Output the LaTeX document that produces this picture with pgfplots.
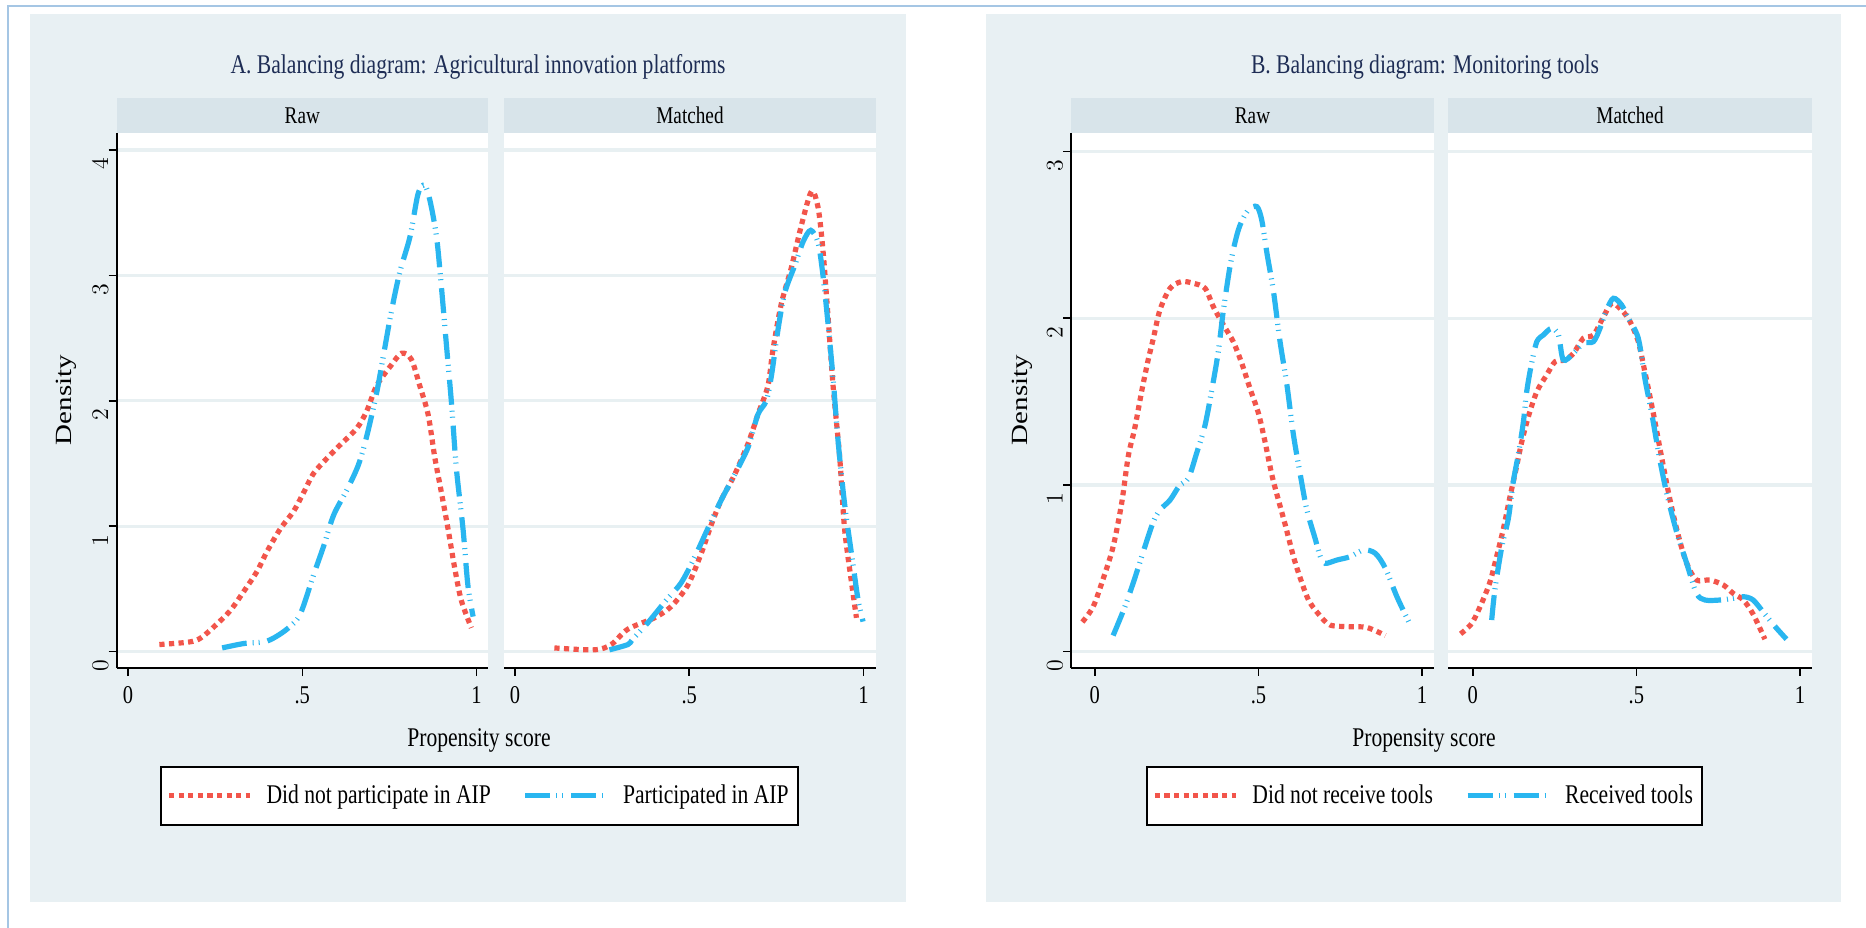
\documentclass[border=0pt]{standalone}
\usepackage{fontspec}
\setmainfont{Liberation Serif}[FakeStretch=0.8]
\newfontfamily\plainserif{Liberation Serif}
\usepackage{graphicx}
\usepackage{pgfplots}
\pgfplotsset{compat=1.18}
\definecolor{bgc}{RGB}{232,240,243}
\definecolor{stripc}{RGB}{216,228,234}
\definecolor{gridc}{RGB}{232,240,242}
\definecolor{redc}{RGB}{242,85,75}
\definecolor{bluec}{RGB}{41,182,240}
\definecolor{borderc}{RGB}{165,198,228}
\definecolor{titlec}{RGB}{30,45,85}
\newcommand\tfont{\fontsize{13.5bp}{16bp}\selectfont}
\newcommand\stripfont{\fontsize{12bp}{14bp}\selectfont}
\newcommand\tickfont{\fontsize{12.8bp}{15bp}\selectfont}
\pgfplotsset{
  panel/.style={
    scale only axis, height=267.5bp, anchor=south west,
    axis background/.style={fill=white},
    axis lines=left,
    axis line style={-, black, line width=1.1bp},
    ymajorgrids, major grid style={gridc, line width=1.6bp},
    tick align=outside, major tick length=4bp,
    tick style={black, line width=0.8bp},
    xtick={0,0.5,1}, xticklabels={0,.5,1},
    xticklabel style={font=\tickfont, inner sep=0pt, anchor=north, yshift=-5bp},
    yticklabel style={font=\tickfont, inner sep=0pt, rotate=90, anchor=south, xshift=-7bp},
    legend image code/.code={\draw[#1] (0bp,0bp) -- (40.5bp,0bp);},
  },
  redline/.style={redc, line width=2.6bp, line cap=butt, dash pattern=on 2.6bp off 2.2bp, smooth},
  blueline/.style={bluec, line width=2.6bp, line cap=butt, dash pattern=on 12.5bp off 3bp on 0.5bp off 2.5bp on 0.5bp off 4bp, smooth},
  leg/.style={legend style={at={(#1,-0.239)}, anchor=center, draw=black, line width=1bp, fill=white,
     font=\tfont, inner xsep=2.5bp, inner ysep=7bp, legend columns=2,
     /tikz/every odd column/.append style={column sep=5bp},
     /tikz/every even column/.append style={column sep=14bp}}},
  matchedy/.style={y axis line style={draw=none}, ytick style={draw=none}, yticklabels={}},
}
\begin{document}
\begin{tikzpicture}
\path[use as bounding box, fill=white] (0,0) rectangle (933bp,464bp);
\fill[bgc] (15bp,13bp) rectangle (453bp,457bp);
\fill[bgc] (493bp,13bp) rectangle (920.5bp,457bp);
\draw[borderc, line width=1.2bp] (4bp,0) -- (4bp,461bp) -- (933bp,461bp);
% strips
\fill[stripc] (58.3bp,397.5bp) rectangle (244bp,415bp);
\fill[stripc] (252bp,397.5bp) rectangle (438bp,415bp);
\fill[stripc] (535.5bp,397.5bp) rectangle (717bp,415bp);
\fill[stripc] (724bp,397.5bp) rectangle (906bp,415bp);
\node at (151.15bp,406.25bp) {\stripfont Raw};
\node at (345bp,406.25bp) {\stripfont Matched};
\node at (626.25bp,406.25bp) {\stripfont Raw};
\node at (815bp,406.25bp) {\stripfont Matched};
% titles
\node[titlec] at (239bp,430.5bp) {\tfont A. Balancing diagram: Agricultural innovation platforms};
\node[titlec] at (712.5bp,430.5bp) {\tfont B. Balancing diagram: Monitoring tools};
\node at (239.5bp,94bp) {\tfont Propensity score};
\node at (712bp,94bp) {\tfont Propensity score};
\node[rotate=90] at (33bp,264bp) {\plainserif\fontsize{14.5bp}{17bp}\selectfont\scalebox{1}[0.8]{Density}};
\node[rotate=90] at (511bp,264bp) {\plainserif\fontsize{14.5bp}{17bp}\selectfont\scalebox{1}[0.8]{Density}};

% ---------- Panel A raw
\begin{axis}[panel, at={(58.3bp,130bp)}, width=185.7bp,
  xmin=-0.0327, xmax=1.0327, ymin=-0.130, ymax=4.136, ytick={0,1,2,3,4}, leg=0.977]
\addplot[redline] coordinates {(0.09,0.057)(0.175,0.077)(0.209,0.11)(0.251,0.21)(0.294,0.33)(0.332,0.48)(0.370,0.64)(0.399,0.80)(0.437,0.98)(0.475,1.12)(0.504,1.27)(0.532,1.42)(0.570,1.54)(0.609,1.65)(0.656,1.78)(0.685,1.92)(0.713,2.12)(0.751,2.27)(0.785,2.38)(0.813,2.33)(0.837,2.12)(0.861,1.89)(0.880,1.55)(0.899,1.27)(0.918,0.98)(0.937,0.67)(0.956,0.41)(0.985,0.19)};
\addlegendentry{Did not participate in AIP}
\addplot[blueline] coordinates {(0.27,0.03)(0.332,0.065)(0.399,0.085)(0.456,0.18)(0.494,0.30)(0.532,0.61)(0.561,0.84)(0.59,1.09)(0.628,1.29)(0.661,1.49)(0.685,1.72)(0.713,2.06)(0.732,2.35)(0.756,2.72)(0.78,3.03)(0.809,3.31)(0.832,3.65)(0.851,3.72)(0.866,3.60)(0.885,3.31)(0.899,2.91)(0.913,2.46)(0.928,1.98)(0.942,1.46)(0.961,0.98)(0.975,0.53)(0.99,0.28)};
\addlegendentry{Participated in AIP}
\end{axis}
% ---------- Panel A matched
\begin{axis}[panel, matchedy, at={(252bp,130bp)}, width=186bp,
  xmin=-0.0316, xmax=1.0362, ymin=-0.130, ymax=4.136, ytick={0,1,2,3,4}]
\addplot[redline] coordinates {(0.113,0.03)(0.228,0.015)(0.276,0.057)(0.324,0.18)(0.40,0.27)(0.448,0.36)(0.496,0.53)(0.534,0.78)(0.563,1.01)(0.592,1.21)(0.63,1.41)(0.669,1.66)(0.697,1.89)(0.726,2.12)(0.74,2.40)(0.764,2.77)(0.793,3.06)(0.822,3.40)(0.851,3.67)(0.87,3.54)(0.884,3.20)(0.898,2.69)(0.913,2.12)(0.932,1.55)(0.946,0.98)(0.966,0.55)(0.98,0.27)};
\addplot[blueline] coordinates {(0.271,0.015)(0.324,0.057)(0.338,0.10)(0.381,0.23)(0.434,0.41)(0.477,0.55)(0.515,0.75)(0.558,1.01)(0.592,1.21)(0.63,1.41)(0.669,1.63)(0.697,1.89)(0.721,2.00)(0.736,2.20)(0.755,2.57)(0.774,2.86)(0.803,3.08)(0.827,3.27)(0.849,3.36)(0.87,3.26)(0.884,3.00)(0.898,2.63)(0.913,2.18)(0.927,1.69)(0.946,1.18)(0.97,0.70)(0.985,0.41)(0.999,0.24)};
\end{axis}
% ---------- Panel B raw
\begin{axis}[panel, at={(535.5bp,130bp)}, width=181.5bp,
  xmin=-0.0727, xmax=1.0364, ymin=-0.0978, ymax=3.1116, ytick={0,1,2,3}, leg=0.974]
\addplot[redline] coordinates {(-0.038,0.178)(-0.005,0.27)(0.026,0.44)(0.056,0.63)(0.082,0.89)(0.102,1.17)(0.122,1.34)(0.143,1.56)(0.163,1.75)(0.179,1.88)(0.199,2.05)(0.23,2.18)(0.265,2.22)(0.301,2.21)(0.337,2.18)(0.362,2.07)(0.393,1.96)(0.423,1.86)(0.449,1.73)(0.474,1.58)(0.50,1.43)(0.52,1.26)(0.541,1.06)(0.561,0.91)(0.582,0.76)(0.607,0.57)(0.628,0.44)(0.653,0.31)(0.684,0.225)(0.719,0.16)(0.78,0.15)(0.832,0.145)(0.888,0.097)};
\addlegendentry{Did not receive tools}
\addplot[blueline] coordinates {(0.056,0.097)(0.092,0.27)(0.122,0.44)(0.153,0.63)(0.179,0.78)(0.199,0.85)(0.23,0.91)(0.26,1.00)(0.286,1.04)(0.311,1.19)(0.337,1.36)(0.362,1.62)(0.378,1.81)(0.393,2.05)(0.413,2.31)(0.429,2.46)(0.444,2.56)(0.469,2.65)(0.495,2.67)(0.51,2.59)(0.526,2.39)(0.546,2.16)(0.566,1.86)(0.587,1.60)(0.607,1.30)(0.628,1.06)(0.648,0.85)(0.673,0.68)(0.689,0.57)(0.704,0.53)(0.74,0.55)(0.78,0.57)(0.821,0.61)(0.857,0.59)(0.888,0.50)(0.923,0.33)(0.964,0.16)};
\addlegendentry{Received tools}
\end{axis}
% ---------- Panel B matched
\begin{axis}[panel, matchedy, at={(724bp,130bp)}, width=182bp,
  xmin=-0.0755, xmax=1.037, ymin=-0.0978, ymax=3.1116, ytick={0,1,2,3}]
\addplot[redline] coordinates {(-0.037,0.107)(-0.003,0.17)(0.027,0.29)(0.053,0.42)(0.073,0.57)(0.094,0.74)(0.114,0.93)(0.134,1.11)(0.15,1.26)(0.17,1.41)(0.196,1.56)(0.226,1.66)(0.252,1.74)(0.282,1.75)(0.308,1.79)(0.338,1.88)(0.369,1.90)(0.40,2.01)(0.425,2.09)(0.455,2.05)(0.481,1.98)(0.506,1.86)(0.526,1.68)(0.552,1.43)(0.577,1.17)(0.603,0.91)(0.628,0.70)(0.654,0.53)(0.684,0.43)(0.725,0.43)(0.766,0.40)(0.796,0.35)(0.827,0.31)(0.857,0.225)(0.893,0.075)};
\addplot[blueline] coordinates {(0.058,0.19)(0.068,0.375)(0.089,0.63)(0.109,0.80)(0.124,1.02)(0.14,1.19)(0.155,1.38)(0.165,1.56)(0.18,1.73)(0.196,1.86)(0.216,1.90)(0.241,1.94)(0.262,1.90)(0.277,1.75)(0.308,1.79)(0.338,1.85)(0.369,1.86)(0.389,1.94)(0.409,2.05)(0.43,2.12)(0.455,2.08)(0.476,2.00)(0.506,1.88)(0.526,1.64)(0.547,1.43)(0.572,1.15)(0.593,0.95)(0.623,0.72)(0.654,0.53)(0.684,0.35)(0.71,0.31)(0.756,0.31)(0.796,0.32)(0.827,0.33)(0.857,0.31)(0.893,0.225)(0.929,0.14)(0.959,0.075)};
\end{axis}
\end{tikzpicture}
\end{document}
